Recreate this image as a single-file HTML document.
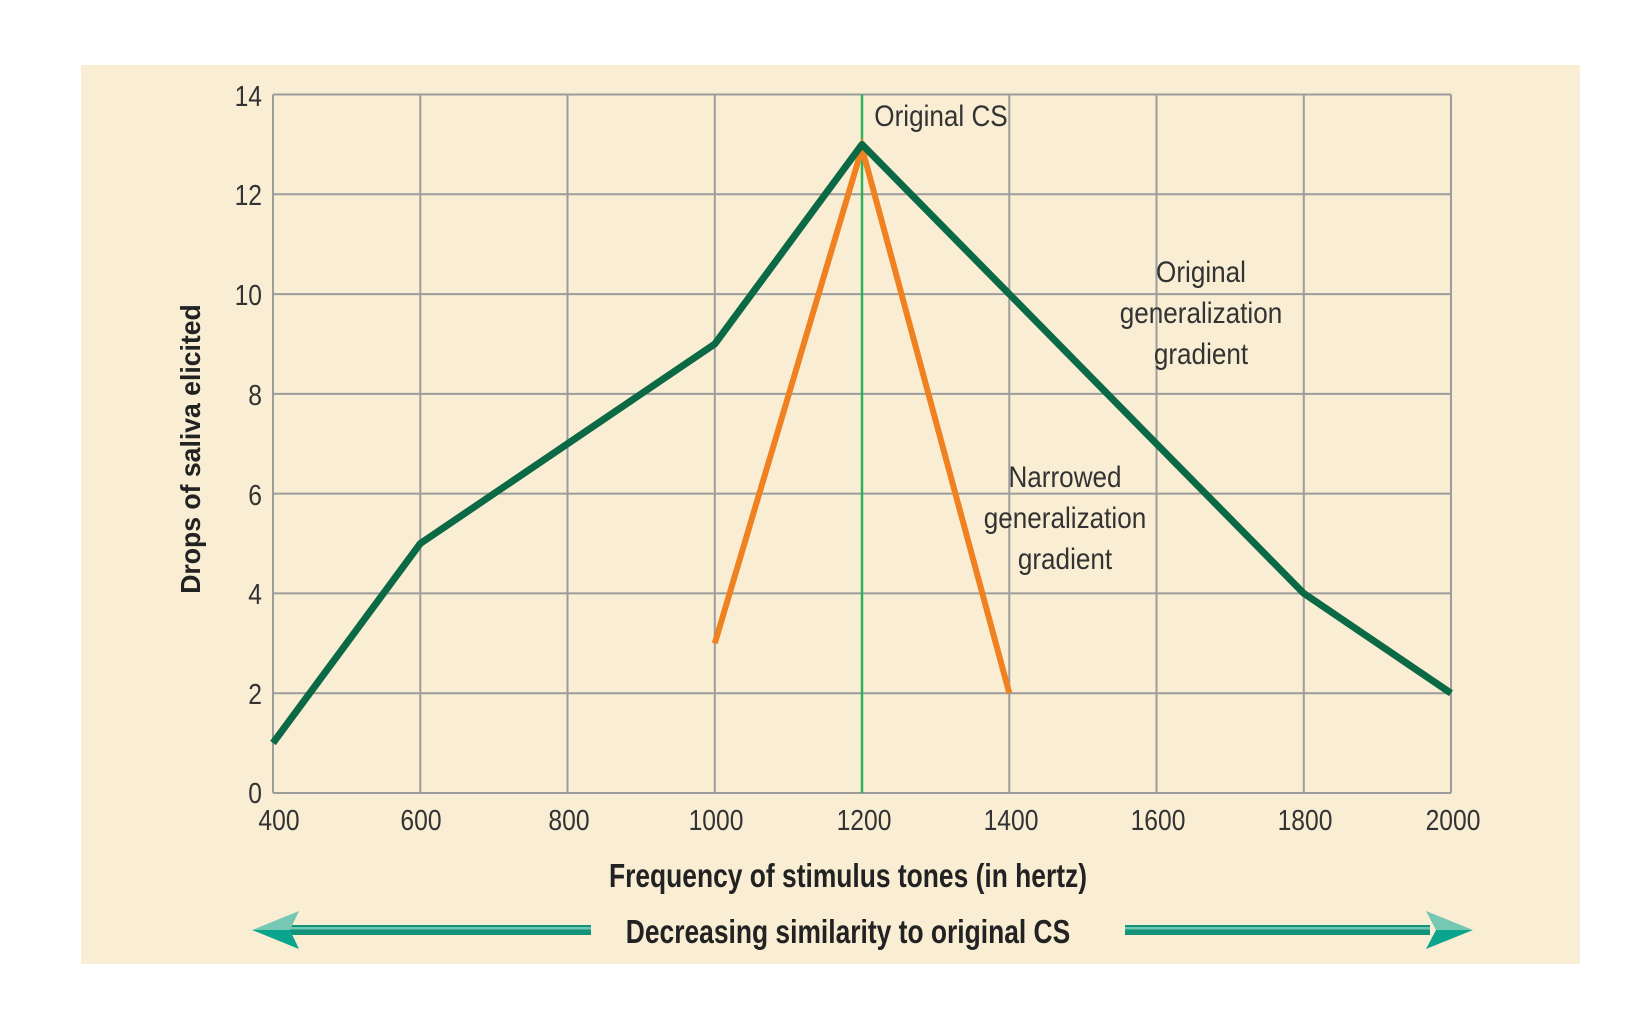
<!DOCTYPE html>
<html><head><meta charset="utf-8"><style>
html,body{margin:0;padding:0;background:#fff;}
svg{display:block;}
text{font-family:"Liberation Sans",sans-serif;}
</style></head><body>
<svg width="1638" height="1017" viewBox="0 0 1638 1017" xmlns="http://www.w3.org/2000/svg">
<rect x="81" y="65" width="1499" height="899" fill="#f9eed4"/>
<g stroke="#9c9c9c" stroke-width="2" fill="none">
<line x1="273" y1="94.5" x2="1451" y2="94.5"/>
<line x1="273" y1="194.3" x2="1451" y2="194.3"/>
<line x1="273" y1="294.1" x2="1451" y2="294.1"/>
<line x1="273" y1="393.9" x2="1451" y2="393.9"/>
<line x1="273" y1="493.6" x2="1451" y2="493.6"/>
<line x1="273" y1="593.4" x2="1451" y2="593.4"/>
<line x1="273" y1="693.2" x2="1451" y2="693.2"/>
<line x1="273" y1="793" x2="1451" y2="793"/>
<line x1="273" y1="94.5" x2="273" y2="793"/>
<line x1="420.3" y1="94.5" x2="420.3" y2="793"/>
<line x1="567.5" y1="94.5" x2="567.5" y2="793"/>
<line x1="714.8" y1="94.5" x2="714.8" y2="793"/>
<line x1="1009.3" y1="94.5" x2="1009.3" y2="793"/>
<line x1="1156.5" y1="94.5" x2="1156.5" y2="793"/>
<line x1="1303.8" y1="94.5" x2="1303.8" y2="793"/>
<line x1="1451" y1="94.5" x2="1451" y2="793"/>
</g>
<line x1="862" y1="94.5" x2="862" y2="793" stroke="#2cb35a" stroke-width="2.5"/>
<polyline fill="none" stroke="#f08121" stroke-width="6" points="714.8,643.3 862,148 1009.3,693.2"/>
<polyline fill="none" stroke="#0b6a45" stroke-width="7" stroke-linejoin="round" points="273,743 420.3,543.5 567.5,443.8 714.8,344 862,144.4 1009.3,294.1 1156.5,443.8 1303.8,593.4 1451,693.2"/>
<g font-size="29" fill="#333" text-anchor="end">
<text transform="translate(262 106) scale(0.85 1)">14</text>
<text transform="translate(262 205) scale(0.85 1)">12</text>
<text transform="translate(262 305) scale(0.85 1)">10</text>
<text transform="translate(262 405) scale(0.85 1)">8</text>
<text transform="translate(262 505) scale(0.85 1)">6</text>
<text transform="translate(262 604) scale(0.85 1)">4</text>
<text transform="translate(262 704) scale(0.85 1)">2</text>
<text transform="translate(262 803) scale(0.85 1)">0</text>
</g>
<g font-size="29" fill="#333" text-anchor="middle">
<text transform="translate(279 830) scale(0.85 1)">400</text>
<text transform="translate(421 830) scale(0.85 1)">600</text>
<text transform="translate(569 830) scale(0.85 1)">800</text>
<text transform="translate(716 830) scale(0.85 1)">1000</text>
<text transform="translate(864 830) scale(0.85 1)">1200</text>
<text transform="translate(1011 830) scale(0.85 1)">1400</text>
<text transform="translate(1158 830) scale(0.85 1)">1600</text>
<text transform="translate(1305 830) scale(0.85 1)">1800</text>
<text transform="translate(1453 830) scale(0.85 1)">2000</text>
</g>
<g font-size="30" fill="#333" text-anchor="middle">
<text transform="translate(941 126) scale(0.87 1)">Original CS</text>
<text transform="translate(1201 282) scale(0.87 1)">Original</text>
<text transform="translate(1201 323) scale(0.87 1)">generalization</text>
<text transform="translate(1201 364) scale(0.87 1)">gradient</text>
<text transform="translate(1065 487) scale(0.87 1)">Narrowed</text>
<text transform="translate(1065 528) scale(0.87 1)">generalization</text>
<text transform="translate(1065 569) scale(0.87 1)">gradient</text>
</g>
<text transform="translate(200 449) rotate(-90) scale(0.95 1)" font-size="28" font-weight="bold" fill="#222" text-anchor="middle">Drops of saliva elicited</text>
<text transform="translate(848 887) scale(0.8 1)" font-size="33" font-weight="bold" fill="#222" text-anchor="middle">Frequency of stimulus tones (in hertz)</text>
<text transform="translate(848 943) scale(0.8 1)" font-size="33" font-weight="bold" fill="#222" text-anchor="middle">Decreasing similarity to original CS</text>
<rect x="290" y="925" width="301" height="10" fill="#13937a"/>
<rect x="290" y="927" width="301" height="2.5" fill="#6cc6b0"/>
<polygon points="252,930 299,911 290,930" fill="#76c8b4"/>
<polygon points="252,930 299,949 290,930" fill="#0aa58c"/>
<rect x="1125" y="925" width="305" height="10" fill="#13937a"/>
<rect x="1125" y="927" width="305" height="2.5" fill="#6cc6b0"/>
<polygon points="1473,930 1426,911 1436,930" fill="#76c8b4"/>
<polygon points="1473,930 1426,949 1436,930" fill="#0aa58c"/>
</svg>
</body></html>
